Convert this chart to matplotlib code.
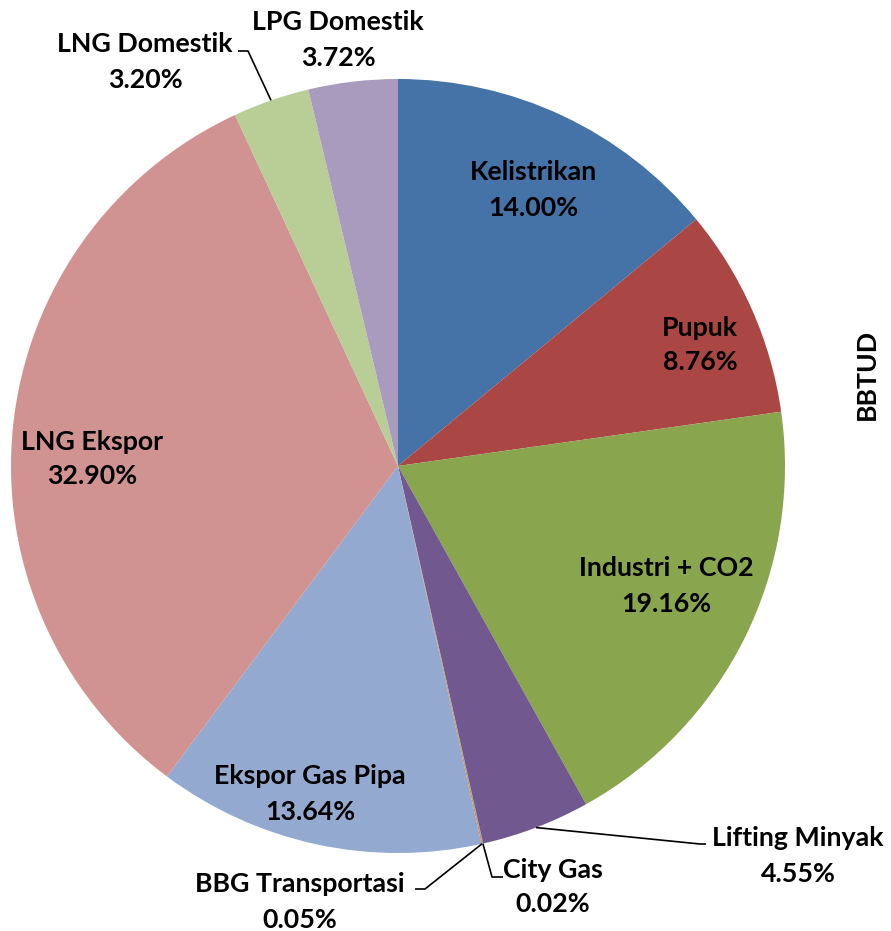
import matplotlib
matplotlib.use("Agg")
import matplotlib.pyplot as plt
import numpy as np

categories = ["Kelistrikan", "Pupuk", "Industri + CO2", "Lifting Minyak", "City Gas",
              "BBG Transportasi", "Ekspor Gas Pipa", "LNG Ekspor", "LNG Domestik", "LPG Domestik"]
values = [14.00, 8.76, 19.16, 4.55, 0.02, 0.05, 13.64, 32.90, 3.20, 3.72]
colors = ["#4572A7", "#AA4643", "#89A54E", "#71588F", "#4198AF",
          "#DB843D", "#93A9CF", "#D19392", "#B9CD96", "#A99BBD"]
axis_title = "BBTUD"

W, H = 891, 931
fig = plt.figure(figsize=(W / 100, H / 100), dpi=100)
ax = fig.add_axes([0, 0, 1, 1])

cx, cy, R = 398, H - 466, 387
wedges, _ = ax.pie(values, colors=colors, startangle=90, counterclock=False,
                   center=(cx, cy), radius=R, frame=True,
                   wedgeprops=dict(linewidth=0))
ax.set_xlim(0, W)
ax.set_ylim(0, H)
ax.set_aspect("equal")
ax.axis("off")

FONT = dict(family="Lato", weight="bold", fontsize=19.3)

def Y(y):
    return H - y

# label positions (image pixel coords) : text centre
label_pos = {
    "Kelistrikan": (533, 190),
    "Pupuk": (700, 345),
    "Industri + CO2": (666, 586),
    "Lifting Minyak": (798, 856),
    "City Gas": (553, 887),
    "BBG Transportasi": (300, 902),
    "Ekspor Gas Pipa": (310, 794),
    "LNG Ekspor": (92, 459),
    "LNG Domestik": (145, 62),
    "LPG Domestik": (338, 40),
}
# leader line elbows (image coords)
leaders = {
    "Lifting Minyak": [(700, 844), (706, 844)],
    "City Gas": [(492, 877), (503, 877)],
    "BBG Transportasi": [(425, 889), (415, 889)],
    "LNG Domestik": [(248, 51), (238, 51)],
}

for w, cat, v in zip(wedges, categories, values):
    x, y = label_pos[cat]
    ax.text(x, Y(y), f"{cat}\n{v:.2f}%", ha="center", va="center",
            linespacing=1.55, color="black", **FONT)
    if cat in leaders:
        ang = np.deg2rad((w.theta1 + w.theta2) / 2)
        pts = [(cx + R * np.cos(ang), cy + R * np.sin(ang))]
        pts += [(px, Y(py)) for px, py in leaders[cat]]
        xs, ys = zip(*pts)
        ax.plot(xs, ys, color="black", linewidth=1.2, solid_capstyle="butt")

ax.text(867, Y(374), axis_title, rotation=90, ha="center", va="center", **FONT)

fig.savefig("out.png", dpi=100)
